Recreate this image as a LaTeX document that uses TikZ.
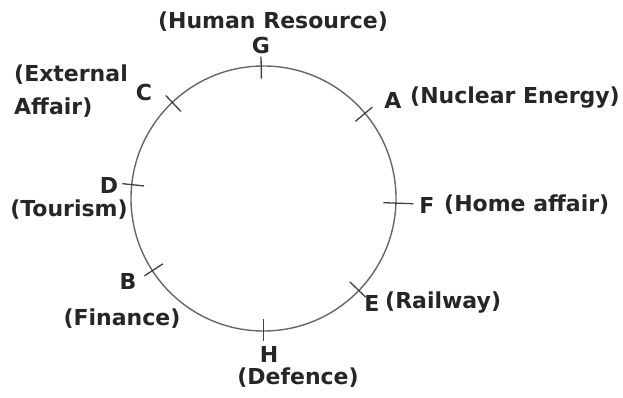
\documentclass[tikz,border=0pt]{standalone}
\usepackage{fontspec}
\setmainfont{DejaVu Sans}
\begin{document}
\begin{tikzpicture}[x=1pt,y=1pt,
  lbl/.style={font=\fontsize{22}{33}\selectfont\bfseries, text=black!85, inner sep=0pt},
  tick/.style={draw=black!75, line width=1.3pt}]
\useasboundingbox (0,0) rectangle (623,-398);
\coordinate (ctr) at (263.5,-198.5);
\node[circle, draw=black!60, line width=1.4pt, minimum size=265pt, inner sep=0pt] (ring) at (ctr) {};
% ticks on the ring
\foreach \a/\l in {91/22,40/22,-2/30,-44/22,-90/22,213/22,174/22,133.5/22}
  \draw[tick] (ctr) ++(\a:120) -- ++(\a:\l);
% letters and departments
\node[lbl] (g) at (261,-45) {G};
\node[lbl] (gt) at (273,-22) {(Human Resource)};
\node[lbl] (a) at (393,-100) {A};
\node[lbl, anchor=west] (at) at (410,-98) {(Nuclear Energy)};
\node[lbl] (f) at (427,-205) {F};
\node[lbl, anchor=west] (ft) at (444,-205) {(Home affair)};
\node[lbl] (e) at (372,-303) {E};
\node[lbl, anchor=west] (et) at (385,-303) {(Railway)};
\node[lbl] (h) at (269,-354) {H};
\node[lbl] (ht) at (298,-378) {(Defence)};
\node[lbl] (b) at (128,-281) {B};
\node[lbl] (bt) at (122,-319) {(Finance)};
\node[lbl] (d) at (109,-185) {D};
\node[lbl] (dt) at (69,-210) {(Tourism)};
\node[lbl] (c) at (144,-92) {C};
\node[lbl, anchor=north west, align=left] (ct) at (14,-65) {(External\\Affair)};
\end{tikzpicture}
\end{document}
